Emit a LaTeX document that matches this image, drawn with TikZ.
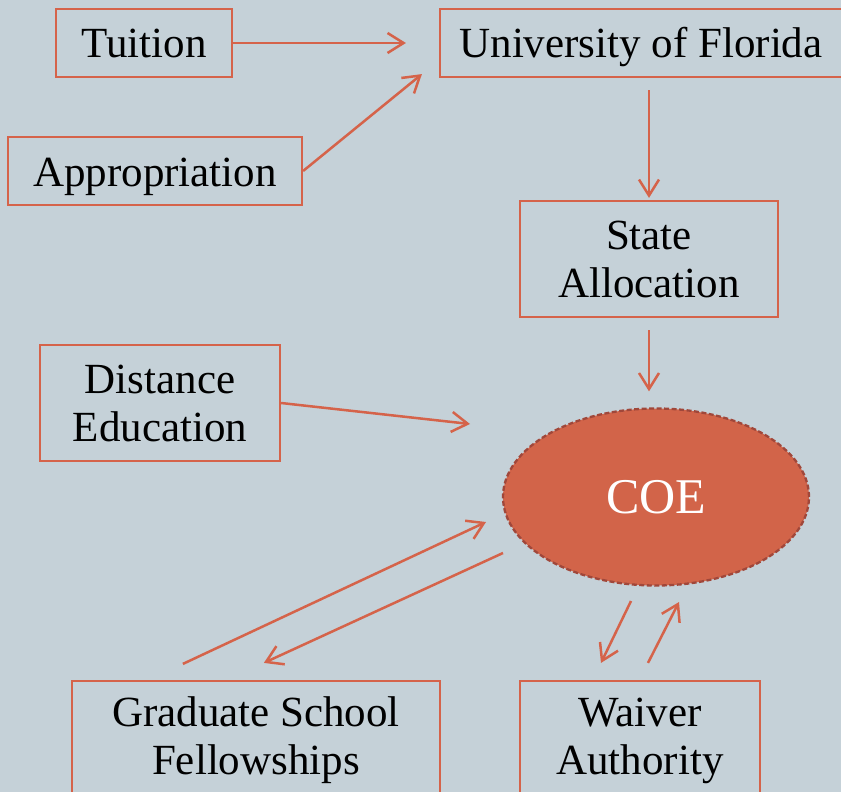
\documentclass[tikz,border=0pt]{standalone}
\usepackage{fontspec}
\setmainfont{Liberation Serif}
\usetikzlibrary{arrows.meta,shapes.geometric,calc}
\definecolor{bgc}{HTML}{C5D1D8}
\definecolor{edge}{HTML}{D5634A}
\definecolor{coefill}{HTML}{D26449}
\definecolor{coeline}{HTML}{A0473A}
\begin{document}
\begin{tikzpicture}[x=1pt,y=-1pt,
  box/.style={draw=edge, line width=2.2pt, inner sep=0pt, align=center,
    font=\fontsize{43}{48}\selectfont},
  oneline/.style={text height=30pt, text depth=0pt},
  flow/.style={draw=edge, line width=2.5pt, -{Straight Barb[length=16pt,width=20pt]}}]
\fill[bgc] (0,0) rectangle (841,792);
\useasboundingbox (0,0) rectangle (841,792);

% funding sources and recipients
\node[box, oneline, minimum width=176pt, minimum height=68pt] (tui) at (144,43) {Tuition};
\node[box, oneline, minimum width=294pt, minimum height=68pt] (app) at (155,171) {Appropriation};
\node[box, oneline, minimum width=402pt, minimum height=68pt] (uf) at (641,43) {University of Florida};
\node[box, minimum width=258pt, minimum height=116pt] (st) at (649,259) {State\\Allocation};
\node[box, minimum width=240pt, minimum height=116pt] (dist) at (160,403) {Distance\\Education};
\node[ellipse, fill=coefill, draw=coeline, line width=2.3pt, dash pattern=on 5pt off 2.5pt,
  minimum width=306pt, minimum height=177pt, inner sep=0pt, text=white,
  font=\fontsize{50}{55}\selectfont, text height=33pt, text depth=0pt] (coe) at (656,497) {COE};
\node[box, minimum width=368pt, minimum height=119pt] (grad) at (256,740.5) {Graduate School\\Fellowships};
\node[box, minimum width=240pt, minimum height=119pt] (waiv) at (640,740.5) {Waiver\\Authority};

% flows of money
\draw[flow, shorten >=33pt] (tui.east) -- (uf.west);
\draw[flow] (app.east) -- ($(uf.south west)+(-17,-4)$);
\draw[flow, shorten <=12pt, shorten >=2pt] (st.north |- uf.south) -- (st.north);
\draw[flow, shorten <=12pt, shorten >=16pt] (st.south) -- (st.south |- coe.north);
\draw[flow] (dist.east) -- ($(coe.center)+(-186,-73)$);
\draw[flow] ($(grad.north west)+(112,-16)$) -- ($(coe.center)+(-170,25)$);
\draw[flow] ($(coe.center)+(-153,56)$) -- ($(grad.north west)+(193,-17)$);
\draw[flow] ($(coe.center)+(-25,104)$) -- ($(waiv.north)+(-39,-17)$);
\draw[flow] ($(waiv.north)+(8,-17)$) -- ($(coe.center)+(23,105)$);
\end{tikzpicture}
\end{document}
